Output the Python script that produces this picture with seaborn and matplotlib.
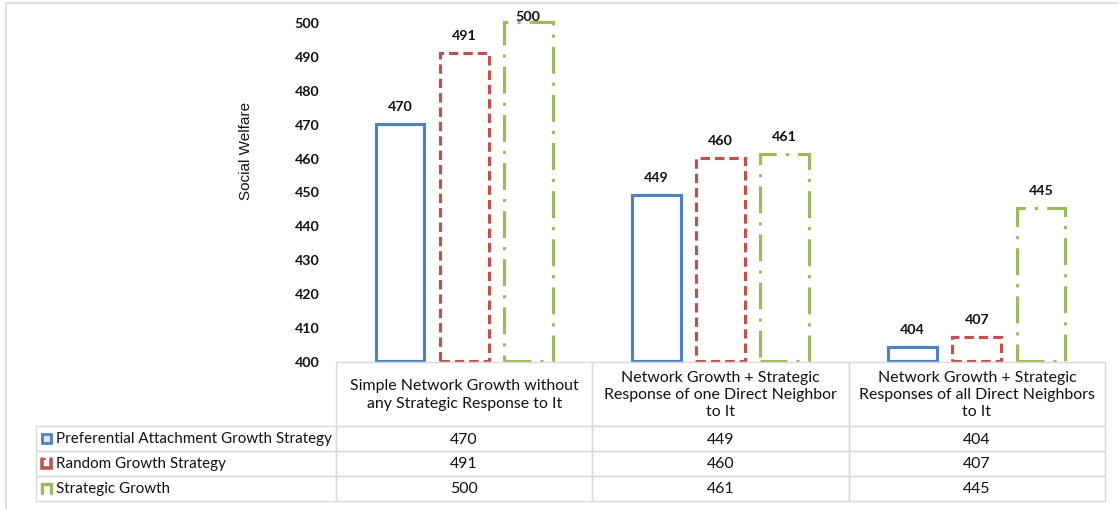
import matplotlib
matplotlib.use("Agg")
import matplotlib.pyplot as plt
from matplotlib.lines import Line2D
from matplotlib.patches import Rectangle
import seaborn as sns
import pandas as pd

# ---- data -------------------------------------------------------------
scenarios = [
    "Simple Network Growth without\nany Strategic Response to It",
    "Network Growth + Strategic\nResponse of one Direct Neighbor\nto It",
    "Network Growth + Strategic\nResponses of all Direct Neighbors\nto It",
]
strategies = [
    "Preferential Attachment Growth Strategy",
    "Random Growth Strategy",
    "Strategic Growth",
]
preferential = [470, 449, 404]
random_growth = [491, 460, 407]
strategic = [500, 461, 445]
y_ticks = [400, 410, 420, 430, 440, 450, 460, 470, 480, 490, 500]
y_label = "Social Welfare"

series = [preferential, random_growth, strategic]
colors = ["#4f81bd", "#c0504d", "#9bbb59"]
line_styles = ["solid", (0, (3.0, 1.6)), (0, (8.6, 2.9, 1.0, 2.9))]

rows = []
for name, vals in zip(strategies, series):
    for sc, v in zip(scenarios, vals):
        rows.append({"scenario": sc, "strategy": name, "welfare": v})
df = pd.DataFrame(rows)

W, H, DPI = 1120, 510, 100
sns.set_theme(style="white")
TXT = ["Lato", "DejaVu Sans"]
plt.rcParams["font.family"] = TXT
INK = "#111111"
GRID = "#d9d9d9"

fig = plt.figure(figsize=(W / DPI, H / DPI), dpi=DPI)


def fx(x):
    return x / W


def fy(y):
    return 1 - y / H


# axes placed in pixel terms
ax_l, ax_r, ax_t, ax_b = 336, 1105, 23, 362
ax = fig.add_axes([fx(ax_l), fy(ax_b), (ax_r - ax_l) / W, (ax_b - ax_t) / H])

sns.barplot(
    data=df, x="scenario", y="welfare", hue="strategy",
    order=scenarios, hue_order=strategies, palette=colors,
    width=0.75, gap=0.24, legend=False, ax=ax,
)

y_min, y_max = y_ticks[0], y_ticks[-1]
ax.set_ylim(y_min, y_max)
ax.set_xlim(-0.5, len(scenarios) - 0.5)

for container, color, ls, vals in zip(ax.containers, colors, line_styles, series):
    for bar, v in zip(container, vals):
        # bars rise from the bottom of the value axis
        bar.set_y(y_min)
        bar.set_height(v - y_min)
        bar.set_facecolor("none")
        bar.set_edgecolor(color)
        bar.set_linewidth(2.25)
        bar.set_linestyle(ls)
        bar.set_joinstyle("miter")
        bar.set_clip_on(False)
        cx = bar.get_x() + bar.get_width() / 2
        ly = min(v + 5.3, y_max + 1.9)
        ax.text(cx, ly, f"{v}", ha="center", va="center",
                fontsize=10.3, fontweight="bold", color=INK)

ax.set_yticks(y_ticks)
ax.set_yticklabels([str(t) for t in y_ticks], fontsize=10.3, fontweight="bold",
                   color=INK)
ax.tick_params(axis="y", length=0, pad=12)
ax.set_xticks([])
ax.set_xlabel("")
ax.set_ylabel("")
for s in ax.spines.values():
    s.set_visible(False)

fig.text(fx(246), fy(151), y_label, rotation=90, ha="center", va="center",
         fontsize=11, color=INK, family=["Liberation Sans", "DejaVu Sans"])

# ---- data table under the chart --------------------------------------
tbl_l, tbl_t = 36, 363
head_h, row_h = 64, 25
col_w = (ax_r - ax_l) / len(scenarios)
HFS, RFS = 11.4, 10.9


def cell(x0, y0, w, h):
    fig.add_artist(Rectangle((fx(x0), fy(y0 + h)), w / W, h / H,
                             transform=fig.transFigure, facecolor="none",
                             edgecolor=GRID, linewidth=1.0))


for c, sc in enumerate(scenarios):
    x0 = ax_l + c * col_w
    cell(x0, tbl_t, col_w, head_h)
    fig.text(fx(x0 + col_w / 2), fy(tbl_t + head_h / 2), sc, ha="center",
             va="center", fontsize=HFS, color=INK, linespacing=1.28)

for r, (name, vals) in enumerate(zip(strategies, series)):
    y0 = tbl_t + head_h + r * row_h
    cell(tbl_l, y0, ax_l - tbl_l, row_h)
    fig.text(fx(tbl_l + 20), fy(y0 + row_h / 2), name, ha="left",
             va="center", fontsize=RFS, color=INK)
    for c, v in enumerate(vals):
        x0 = ax_l + c * col_w
        cell(x0, y0, col_w, row_h)
        fig.text(fx(x0 + col_w / 2), fy(y0 + row_h / 2), str(v), ha="center",
                 va="center", fontsize=HFS, color=INK)

# legend keys beside each row label
kx0, kx1, half = 42, 51, 4.5
for i, color in enumerate(colors):
    yc = tbl_t + head_h + (i + 0.5) * row_h
    top, bot = yc - half, yc + half
    if i == 0:
        fig.add_artist(Rectangle((fx(kx0), fy(bot)), (kx1 - kx0) / W, (bot - top) / H,
                                 transform=fig.transFigure, facecolor="#dce6f2",
                                 edgecolor=color, linewidth=2.0))
    elif i == 1:
        fig.add_artist(Line2D([fx(kx0), fx(kx0), fx(kx1), fx(kx1)],
                              [fy(top), fy(bot), fy(bot), fy(top)],
                              transform=fig.transFigure, color=color, lw=2.6,
                              solid_joinstyle="miter"))
        fig.add_artist(Line2D([fx(kx0), fx(kx0 + 3)], [fy(top), fy(top)],
                              transform=fig.transFigure, color=color, lw=1.5))
    else:
        fig.add_artist(Line2D([fx(kx0), fx(kx0), fx(kx1), fx(kx1)],
                              [fy(bot), fy(top), fy(top), fy(bot)],
                              transform=fig.transFigure, color=color, lw=2.4,
                              solid_joinstyle="miter"))

# light frame around the chart area
fig.add_artist(Line2D([fx(6), fx(6), fx(1118)], [fy(512), fy(4), fy(4)],
                      transform=fig.transFigure, color=GRID, lw=1.2))

fig.savefig("out.png", dpi=DPI)
